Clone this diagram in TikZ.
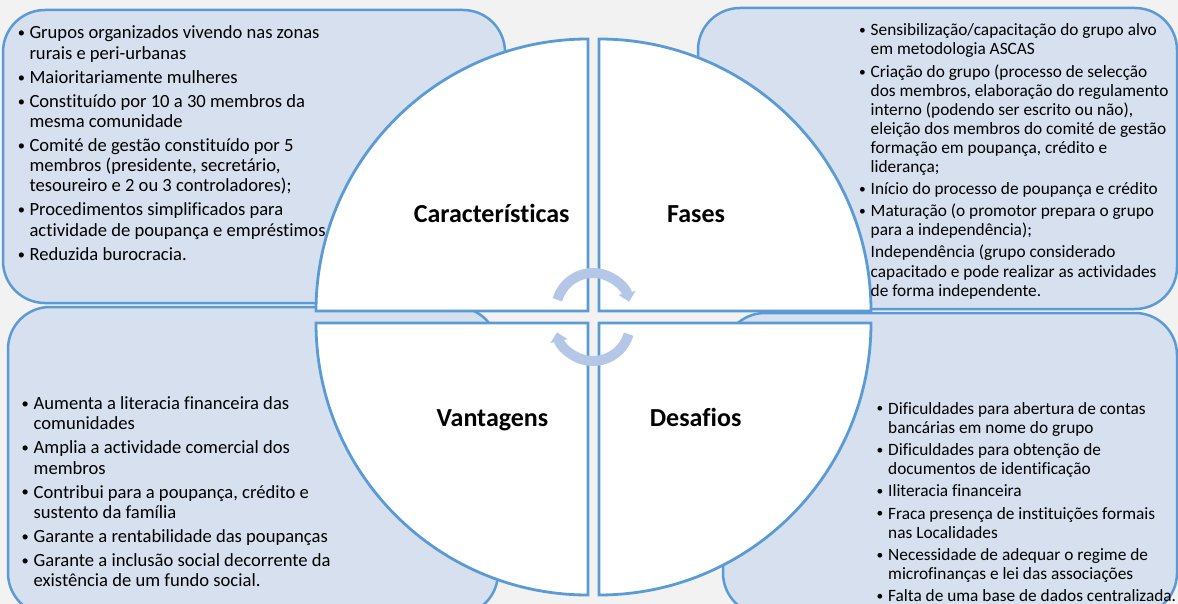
\documentclass[tikz,border=0pt]{standalone}
\usepackage{fontspec}
\setmainfont[Ligatures=NoCommon]{Carlito}
\usetikzlibrary{arrows.meta}
\definecolor{bgc}{RGB}{242,242,242}
\definecolor{boxfill}{RGB}{214,224,238}
\definecolor{edgec}{RGB}{91,155,213}
\definecolor{arrowc}{RGB}{180,199,231}
\begin{document}
\begin{tikzpicture}[x=1pt,y=-1pt,
  infobox/.style={draw=edgec, fill=boxfill, line width=2.5pt, rounded corners=42pt},
  quad/.style={draw=edgec, fill=white, line width=2.8pt},
  cyc/.style={draw=arrowc, line width=10pt, -{Triangle[length=9pt,width=17pt]}},
  title/.style={font=\fontsize{26}{30}\selectfont\bfseries, anchor=base, inner sep=0pt},
  ltxt/.style={font=\fontsize{18.6}{20}\selectfont, anchor=base west, inner sep=0pt},
  rtxt/.style={font=\fontsize{17.3}{19}\selectfont, anchor=base west, inner sep=0pt},
  lbul/.style={font=\fontsize{14.5}{16}\selectfont, anchor=base, inner sep=0pt, yshift=1.2pt},
  rbul/.style={font=\fontsize{13.5}{15}\selectfont, anchor=base, inner sep=0pt, yshift=1.1pt}]
\useasboundingbox (0,0) rectangle (1178,604);
\clip (0,0) rectangle (1178,604);
\fill[bgc] (0,0) rectangle (1178,604);
% boxes
\draw[infobox] (3,10) rectangle (505,303);
\draw[infobox] (8,307) rectangle (498,615);
\draw[infobox] (698,8) rectangle (1177,309);
\draw[infobox] (723,313) rectangle (1177,615);
% quadrants
\draw[quad] (588,311) -- (316,311) arc (180:270:272) -- cycle;
\draw[quad] (599,311) -- (599,39) arc (270:360:272) -- cycle;
\draw[quad] (588,323) -- (588,595) arc (90:180:272) -- cycle;
\draw[quad] (599,323) -- (871,323) arc (0:90:272) -- cycle;
% cycle arrows
\draw[cyc] (593,310) ++(196:37) arc (196:347:37);
\draw[cyc] (593,324) ++(16:37) arc (16:167:37);
% titles
\node[title] (tcar) at (491.7,222.7) {Características};
\node[title] (tfas) at (696,222.7) {Fases};
\node[title] (tvan) at (492.5,426.7) {Vantagens};
\node[title] (tdes) at (695.6,426.7) {Desafios};
% top-left text
\node[lbul] (tlb1) at (21.5,39) {•};
\node[ltxt] (tl1) at (29.3,39) {Grupos organizados vivendo nas zonas};
\node[ltxt] (tl2) at (29.3,59.3) {rurais e peri-urbanas};
\node[lbul] (tlb2) at (21.5,83.3) {•};
\node[ltxt] (tl3) at (29.3,83.3) {Maioritariamente mulheres};
\node[lbul] (tlb3) at (21.5,107.3) {•};
\node[ltxt] (tl4) at (29.3,107.3) {Constituído por 10 a 30 membros da};
\node[ltxt] (tl5) at (29.3,127.5) {mesma comunidade};
\node[lbul] (tlb4) at (21.5,151.5) {•};
\node[ltxt] (tl6) at (29.3,151.5) {Comité de gestão constituído por 5};
\node[ltxt] (tl7) at (29.3,171.7) {membros (presidente, secretário,};
\node[ltxt] (tl8) at (29.3,192) {tesoureiro e 2 ou 3 controladores);};
\node[lbul] (tlb5) at (21.5,216) {•};
\node[ltxt] (tl9) at (29.3,216) {Procedimentos simplificados para};
\node[ltxt] (tl10) at (29.3,236.3) {actividade de poupança e empréstimos};
\node[lbul] (tlb6) at (21.5,260.3) {•};
\node[ltxt] (tl11) at (29.3,260.3) {Reduzida burocracia.};
% top-right text
\node[rbul] (trb1) at (862.5,36) {•};
\node[rtxt] (tr1) at (870.5,36) {Sensibilização/capacitação do grupo alvo};
\node[rtxt] (tr2) at (870.5,55) {em metodologia ASCAS};
\node[rbul] (trb2) at (862.5,78) {•};
\node[rtxt] (tr3) at (870.5,78) {Criação do grupo (processo de selecção};
\node[rtxt] (tr4) at (870.5,97) {dos membros, elaboração do regulamento};
\node[rtxt] (tr5) at (870.5,116) {interno (podendo ser escrito ou não),};
\node[rtxt] (tr6) at (870.5,135) {eleição dos membros do comité de gestão};
\node[rtxt] (tr7) at (870.5,154) {formação em poupança, crédito e};
\node[rtxt] (tr8) at (870.5,173) {liderança;};
\node[rbul] (trb3) at (862.5,195) {•};
\node[rtxt] (tr9) at (870.5,195) {Início do processo de poupança e crédito};
\node[rbul] (trb4) at (862.5,216.7) {•};
\node[rtxt] (tr10) at (870.5,216.7) {Maturação (o promotor prepara o grupo};
\node[rtxt] (tr11) at (870.5,235.5) {para a independência);};
\node[rtxt] (tr12) at (870.5,258) {Independência (grupo considerado};
\node[rtxt] (tr13) at (870.5,277.5) {capacitado e pode realizar as actividades};
\node[rtxt] (tr14) at (870.5,296.7) {de forma independente.};
% bottom-left text
\node[lbul] (blb1) at (25.3,409.5) {•};
\node[ltxt] (bl1) at (33.5,409.5) {Aumenta a literacia financeira das};
\node[ltxt] (bl2) at (33.5,429.8) {comunidades};
\node[lbul] (blb2) at (25.3,453.8) {•};
\node[ltxt] (bl3) at (33.5,453.8) {Amplia a actividade comercial dos};
\node[ltxt] (bl4) at (33.5,474.1) {membros};
\node[lbul] (blb3) at (25.3,498.1) {•};
\node[ltxt] (bl5) at (33.5,498.1) {Contribui para a poupança, crédito e};
\node[ltxt] (bl6) at (33.5,518.4) {sustento da família};
\node[lbul] (blb4) at (25.3,542.4) {•};
\node[ltxt] (bl7) at (33.5,542.4) {Garante a rentabilidade das poupanças};
\node[lbul] (blb5) at (25.3,566.4) {•};
\node[ltxt] (bl8) at (33.5,566.4) {Garante a inclusão social decorrente da};
\node[ltxt] (bl9) at (33.5,586.7) {existência de um fundo social.};
% bottom-right text
\node[rbul] (brb1) at (880,414) {•};
\node[rtxt] (br1) at (888,414) {Dificuldades para abertura de contas};
\node[rtxt] (br2) at (888,433) {bancárias em nome do grupo};
\node[rbul] (brb2) at (880,455.5) {•};
\node[rtxt] (br3) at (888,455.5) {Dificuldades para obtenção de};
\node[rtxt] (br4) at (888,474.5) {documentos de identificação};
\node[rbul] (brb3) at (880,496.5) {•};
\node[rtxt] (br5) at (888,496.5) {Iliteracia financeira};
\node[rbul] (brb4) at (880,519) {•};
\node[rtxt] (br6) at (888,519) {Fraca presença de instituições formais};
\node[rtxt] (br7) at (888,538) {nas Localidades};
\node[rbul] (brb5) at (880,560.5) {•};
\node[rtxt] (br8) at (888,560.5) {Necessidade de adequar o regime de};
\node[rtxt] (br9) at (888,579.5) {microfinanças e lei das associações};
\node[rbul] (brb6) at (880,601.5) {•};
\node[rtxt] (br10) at (888,601.5) {Falta de uma base de dados centralizada.};
\end{tikzpicture}
\end{document}
